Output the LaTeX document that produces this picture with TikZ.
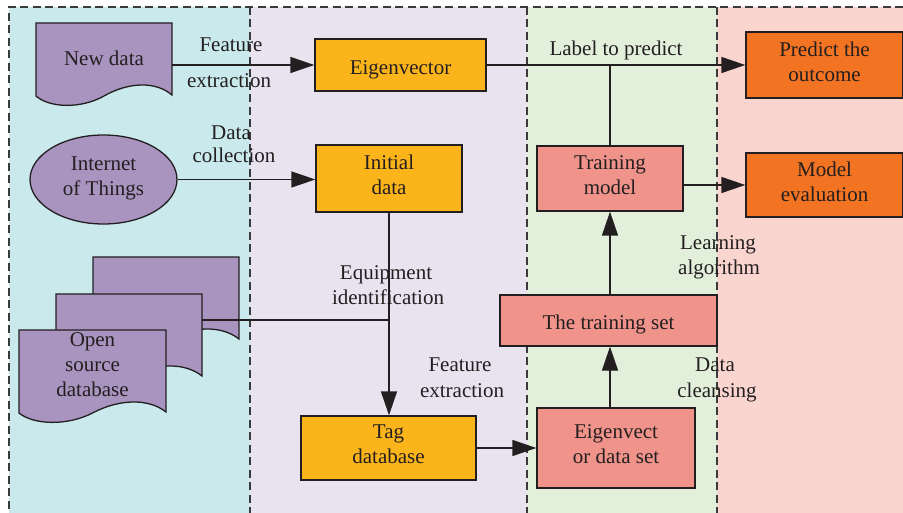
\documentclass[tikz,border=0pt]{standalone}
\usepackage{fontspec}
\setmainfont{Liberation Serif}
\usetikzlibrary{shapes.geometric,arrows.meta,calc}
\definecolor{ink}{HTML}{231F20}
\definecolor{dashc}{HTML}{3A3A3C}
\definecolor{cyanbg}{HTML}{C9E9EC}
\definecolor{lavbg}{HTML}{E8E3EF}
\definecolor{greenbg}{HTML}{E1EFDB}
\definecolor{pinkbg}{HTML}{FAD5D0}
\definecolor{purp}{HTML}{A993BF}
\definecolor{yel}{HTML}{FBB41A}
\definecolor{salmon}{HTML}{F0948B}
\definecolor{orng}{HTML}{F27322}
\newcommand\docshape[4]{%
  \pgfmathsetmacro\dw{#3-#1}%
  \filldraw[docstyle] (#1,#2) -- (#3,#2) -- (#3,{#4-1})
    .. controls ({#3-0.12*\dw},{#4-15}) and ({#3-0.32*\dw},{#4-14}) .. ({#1+0.5*\dw},{#4})
    .. controls ({#1+0.33*\dw},{#4+13}) and ({#1+0.1*\dw},{#4+12}) .. (#1,#4) -- cycle;}
\begin{document}
\begin{tikzpicture}[x=1pt,y=-1pt,
  font=\fontsize{21}{25}\selectfont, text=ink,
  box/.style={draw=ink, line width=1.3pt, align=center, inner sep=0pt},
  one/.style={text height=19pt, text depth=0pt},
  two/.style={text depth=7pt},
  docstyle/.style={draw=ink, fill=purp, line width=1.3pt},
  docnode/.style={align=center, inner sep=0pt},
  lbl/.style={anchor=base, inner sep=0pt},
  conn/.style={draw=ink, line width=1.3pt},
  arr/.style={conn, -{Triangle[length=24pt,width=16pt]}},
  divider/.style={draw=dashc, dash pattern=on 8pt off 4.5pt, line width=1.3pt}]
\useasboundingbox (0,0) rectangle (903,513);
% backgrounds
\fill[cyanbg] (9,7) rectangle (250,513);
\fill[lavbg] (250,7) rectangle (527,513);
\fill[greenbg] (527,7) rectangle (717,513);
\fill[pinkbg] (717,7) rectangle (903,513);
\draw[divider] (903,7) -- (9,7) -- (9,513);
\draw[divider] (250,7) -- (250,513);
\draw[divider] (527,7) -- (527,513);
\draw[divider] (717,7) -- (717,513);
% document shapes
\docshape{36}{23}{172}{96}
\node[docnode, minimum width=136, minimum height=71] (newdata) at (104,58.5) {New data};
\docshape{93}{257}{239}{340}
\docshape{56}{294}{202}{377}
\coordinate (osdmid) at (202,320);
\docshape{19}{330}{166}{413}
\node[docnode, minimum width=147, minimum height=82] (osd) at (92.5,365) {Open\\source\\database};
% ellipse
\node[ellipse, draw=ink, fill=purp, line width=1.3pt, minimum width=147, minimum height=89, align=center, inner sep=0pt, two] (iot) at (103.5,179.5) {Internet\\of Things};
% boxes
\node[box, one, fill=yel, minimum width=171, minimum height=52] (eigen) at (400.5,65) {Eigenvector};
\node[box, two, fill=yel, minimum width=146, minimum height=67] (initial) at (389,178.5) {Initial\\data};
\node[box, two, fill=yel, minimum width=175, minimum height=64] (tag) at (388.5,448) {Tag\\database};
\node[box, two, fill=salmon, minimum width=158, minimum height=80] (evds) at (616,448) {Eigenvect\\or data set};
\node[box, one, fill=salmon, minimum width=217, minimum height=51] (trainset) at (608.5,320.5) {The training set};
\node[box, two, fill=salmon, minimum width=146, minimum height=65] (trainmodel) at (610,178.5) {Training\\model};
\node[box, two, fill=orng, minimum width=157, minimum height=66] (predict) at (824.5,65) {Predict the\\outcome};
\node[box, two, fill=orng, minimum width=157, minimum height=64] (modeleval) at (824.5,185) {Model\\evaluation};
% connectors
\draw[arr] (newdata.east |- eigen.west) -- (eigen.west);
\draw[arr] (iot.east) -- (iot.east -| initial.west);
\draw[arr] (initial.south) -- (initial.south |- tag.north);
\draw[conn] (osdmid) -- (osdmid -| initial.south);
\draw[arr] (tag.east) -- (tag.east -| evds.west);
\draw[arr] (trainmodel.south |- evds.north) -- (trainmodel.south |- trainset.south);
\draw[arr] (trainmodel.south |- trainset.north) -- (trainmodel.south);
\draw[arr] (eigen.east) -- (eigen.east -| predict.west);
\draw[conn] (trainmodel.north) -- (trainmodel.north |- eigen.east);
\draw[arr] (trainmodel.east |- modeleval.west) -- (modeleval.west);
% labels
\node[lbl] (fe1a) at (231,52) {Feature};
\node[lbl] (fe1b) at (229,88) {extraction};
\node[lbl] (dc1a) at (231,140) {Data};
\node[lbl] (dc1b) at (234,163) {collection};
\node[lbl] (eq1a) at (386,280) {Equipment};
\node[lbl] (eq1b) at (388,305) {identification};
\node[lbl] (fe2a) at (460,371) {Feature};
\node[lbl] (fe2b) at (462,397) {extraction};
\node[lbl] (ltp) at (616,56) {Label to predict};
\node[lbl] (la1) at (718,250) {Learning};
\node[lbl] (la2) at (719,275) {algorithm};
\node[lbl] (dcl1) at (715,371) {Data};
\node[lbl] (dcl2) at (717,397) {cleansing};
\end{tikzpicture}
\end{document}
